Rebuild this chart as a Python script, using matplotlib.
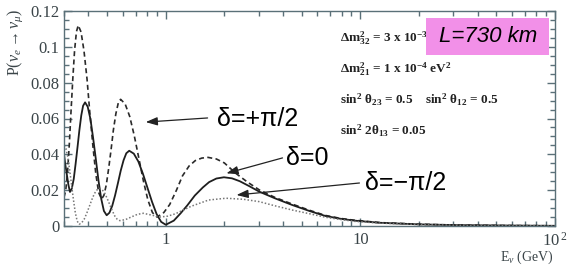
import matplotlib
matplotlib.use("Agg")
import matplotlib.pyplot as plt
from matplotlib.patches import Rectangle
from matplotlib.ticker import FixedLocator, NullFormatter, FixedFormatter, LogLocator

# ---- data ----
E_solid = [0.300, 0.305, 0.311, 0.316, 0.322, 0.329, 0.3367, 0.344, 0.352, 0.360, 0.368,
           0.376, 0.385, 0.397, 0.410, 0.423, 0.437, 0.451, 0.466, 0.481, 0.497, 0.5135,
           0.531, 0.549, 0.568, 0.587, 0.607, 0.627, 0.649, 0.685, 0.723, 0.763, 0.805,
           0.850, 0.897, 0.947, 1.00, 1.10, 1.19, 1.29, 1.41, 1.55, 1.67, 1.82, 1.99, 2.19,
           2.40, 2.69, 3.02, 3.63, 4.47, 5.50, 6.61, 7.94, 9.33, 12.6, 20.0, 31.6, 50.1, 100]
P_solid = [0.040, 0.034, 0.028, 0.023, 0.019, 0.0209, 0.0263, 0.0345, 0.044, 0.0536, 0.0617,
           0.0671, 0.069, 0.0666, 0.0598, 0.0495, 0.0375, 0.0255, 0.0152, 0.0084, 0.006,
           0.0074, 0.0113, 0.0171, 0.024, 0.0309, 0.0367, 0.0406, 0.042, 0.0404, 0.036,
           0.0292, 0.0214, 0.0135, 0.0067, 0.0023, 0.0007, 0.003, 0.007, 0.0115, 0.017,
           0.0215, 0.0245, 0.0265, 0.0272, 0.0266, 0.025, 0.0222, 0.0192, 0.0155, 0.0117,
           0.0083, 0.0056, 0.0040, 0.003, 0.0018, 0.0009, 0.0005, 0.0003, 0.0001]

E_dashed = [0.300, 0.306, 0.3128, 0.3195, 0.326, 0.333, 0.340, 0.3475, 0.355, 0.367, 0.380,
            0.394, 0.407, 0.422, 0.437, 0.452, 0.468, 0.481, 0.495, 0.509, 0.524, 0.538,
            0.554, 0.570, 0.586, 0.618, 0.653, 0.689, 0.727, 0.767, 0.809, 0.854, 0.902,
            0.977, 1.048, 1.135, 1.219, 1.318, 1.418, 1.531, 1.648, 1.82, 2.00, 2.29, 2.63,
            3.03, 3.63, 4.47, 5.50, 6.61, 7.94, 9.33, 12.6, 20.0, 31.6, 50.1, 100]
P_dashed = [0.016, 0.0196, 0.030, 0.0457, 0.064, 0.0823, 0.098, 0.1084, 0.112, 0.1083, 0.0978,
            0.082, 0.0635, 0.045, 0.0292, 0.0187, 0.015, 0.0171, 0.0231, 0.0322, 0.0429,
            0.0535, 0.0626, 0.0686, 0.0707, 0.0682, 0.0611, 0.0504, 0.0379, 0.0253, 0.0146,
            0.0075, 0.005, 0.0075, 0.012, 0.020, 0.028, 0.0335, 0.0365, 0.0379, 0.0383,
            0.0374, 0.0352, 0.0294, 0.0245, 0.0201, 0.016, 0.0122, 0.0087, 0.0059, 0.0042,
            0.0032, 0.0019, 0.001, 0.0005, 0.0003, 0.0001]

E_dotted = [0.300, 0.3067, 0.3136, 0.3207, 0.328, 0.3355, 0.343, 0.3508, 0.359, 0.370, 0.3813,
            0.393, 0.405, 0.4174, 0.430, 0.4435, 0.457, 0.471, 0.485, 0.500, 0.515, 0.531,
            0.547, 0.5636, 0.581, 0.622, 0.667, 0.715, 0.766, 0.845, 0.933, 1.023, 1.12,
            1.35, 1.66, 2.04, 2.51, 3.02, 3.63, 4.47, 5.50, 6.61, 7.94, 9.33, 12.6, 20.0,
            31.6, 50.1, 100]
P_dotted = [0.045, 0.0433, 0.0386, 0.0314, 0.023, 0.0146, 0.0074, 0.0027, 0.001, 0.0018,
            0.0039, 0.0072, 0.011, 0.0148, 0.0181, 0.0202, 0.021, 0.0203, 0.0184, 0.0154,
            0.012, 0.0086, 0.0056, 0.0037, 0.003, 0.0036, 0.0051, 0.0065, 0.0071, 0.0061,
            0.005, 0.0055, 0.0068, 0.011, 0.0145, 0.0155, 0.0149, 0.0136, 0.0113, 0.0089,
            0.0068, 0.0049, 0.0036, 0.0026, 0.0016, 0.0008, 0.0004, 0.0002, 0.0001]

y_ticks = [0, 0.02, 0.04, 0.06, 0.08, 0.10, 0.12]
y_ticklabels = ["0", "0.02", "0.04", "0.06", "0.08", "0.1", "0.12"]
x_ticks = [1, 10, 100]
x_ticklabels = ["1", "10", r"$10^{\,2}$"]

labels = [r"δ=+π/2", r"δ=0", r"δ=−π/2"]
params = [r"$\mathbf{\Delta m^{2}_{32}}$ = 3 x 10$^{\mathbf{-3}}$",
          r"$\mathbf{\Delta m^{2}_{21}}$ = 1 x 10$^{\mathbf{-4}}$ eV$^{\mathbf{2}}$",
          r"sin$^{\mathbf{2}}$ $\mathbf{\theta_{23}}$ = 0.5    sin$^{\mathbf{2}}$ $\mathbf{\theta_{12}}$ = 0.5",
          r"sin$^{\mathbf{2}}$ 2$\mathbf{\theta_{13}}$ = 0.05"]
box_text = "L=730 km"

# ---- style ----
plt.rcParams['mathtext.fontset'] = 'custom'
plt.rcParams['mathtext.rm'] = 'Liberation Serif'
plt.rcParams['mathtext.it'] = 'Liberation Serif:italic'
plt.rcParams['mathtext.bf'] = 'Liberation Serif:bold'

W, H = 575, 268
fig = plt.figure(figsize=(W / 100, H / 100), dpi=100)
ax = fig.add_axes([64 / W, 1 - 226 / H, (555 - 64) / W, (226 - 11) / H])

spine_col = '#5a7078'
txt_col = '#3a4448'

ax.plot(E_dashed, P_dashed, color='#2a2a2a', lw=1.2, ls=(0, (3, 2)))
ax.plot(E_solid, P_solid, color='#1e1e1e', lw=1.3, ls='-')
ax.plot(E_dotted, P_dotted, color='#777777', lw=1.1, ls=(0, (1, 1.3)))

ax.set_xscale('log')
ax.set_xlim(0.3, 100)
ax.set_ylim(0, 0.12)

ax.xaxis.set_major_locator(FixedLocator(x_ticks))
ax.xaxis.set_major_formatter(FixedFormatter(x_ticklabels))
ax.xaxis.set_minor_locator(LogLocator(base=10, subs=range(2, 10)))
ax.xaxis.set_minor_formatter(NullFormatter())
ax.yaxis.set_major_locator(FixedLocator(y_ticks))
ax.yaxis.set_major_formatter(FixedFormatter(y_ticklabels))
ax.yaxis.set_minor_locator(FixedLocator([i * 0.005 for i in range(25)]))

ax.tick_params(which='both', direction='in', top=True, right=True, colors=spine_col,
               labelcolor=txt_col, width=1.0)
ax.tick_params(which='major', length=6)
ax.tick_params(which='minor', length=3.5)
ax.tick_params(axis='x', which='major', pad=4)
for lab in ax.get_xticklabels() + ax.get_yticklabels():
    lab.set_fontfamily('Liberation Serif')
    lab.set_fontsize(12)
for s in ax.spines.values():
    s.set_color(spine_col)
    s.set_linewidth(1.0)

fig.text(15 / W, 1 - 42 / H, r"P($\nu_{e}$$\rightarrow$$\nu_{\mu}$)", rotation=90,
         ha='center', va='center', fontsize=11.5, family='Liberation Serif', color=txt_col)
fig.text(527 / W, 1 - 257 / H, r"E$_{\nu}$ (GeV)", ha='center', va='center',
         fontsize=10, family='Liberation Serif', color=txt_col)

# annotations
ann_text_xy = [(1.83, 0.0597), (4.17, 0.038), (10.5, 0.024)]
ann_tail = [(1.64, 0.0603), (3.98, 0.038), (9.89, 0.024)]
ann_head = [(0.789, 0.058), (2.05, 0.0294), (2.31, 0.0173)]
for lab, txy, tail, head in zip(labels, ann_text_xy, ann_tail, ann_head):
    ax.text(txy[0], txy[1], lab, ha='left', va='center', fontsize=18,
            family='Liberation Sans', color='black')
    ax.annotate('', xy=head, xytext=tail,
                arrowprops=dict(arrowstyle='-|>,head_length=0.7,head_width=0.25',
                                color='#222222', lw=0.9, shrinkA=0, shrinkB=0))

# parameter text
for i, p in enumerate(params):
    fig.text(340 / W, 1 - (38 + i * 31) / H, p, ha='left', va='center', fontsize=9.5,
             family='Liberation Serif', weight='bold', color='#222222')

rect = Rectangle((426 / W, 1 - 55 / H), 123 / W, 37 / H, transform=fig.transFigure,
                 facecolor='#f290e8', edgecolor='none', zorder=5)
fig.patches.append(rect)
fig.text(488 / W, 1 - 37 / H, box_text, ha='center', va='center', fontsize=16,
         family='Liberation Sans', style='italic', color='black', zorder=6)

fig.savefig('out.png', dpi=100)
